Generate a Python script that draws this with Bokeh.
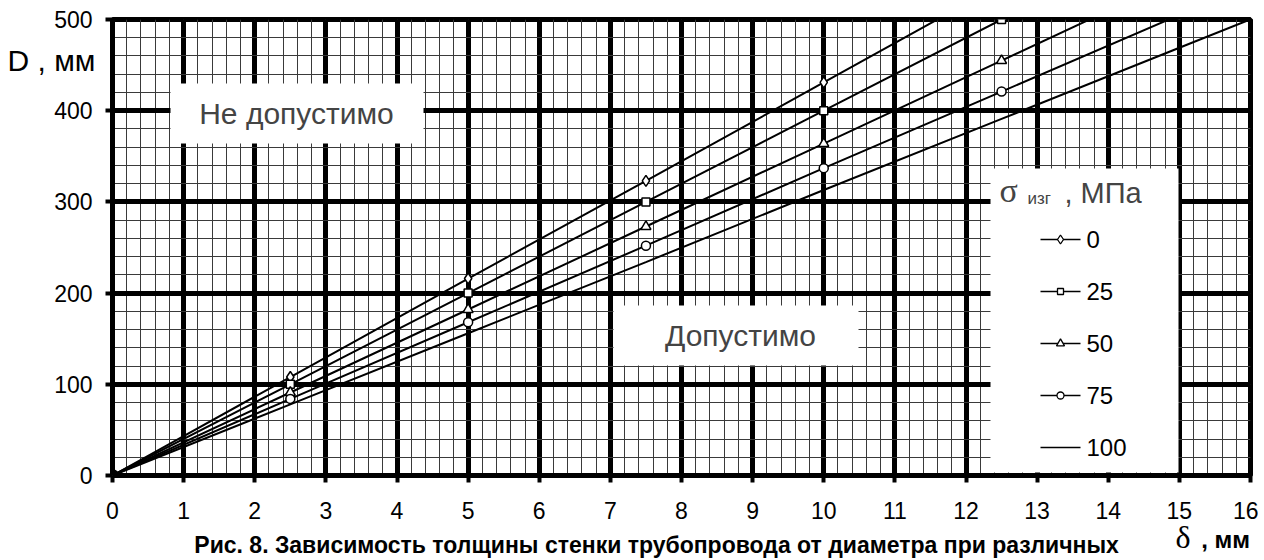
from bokeh.plotting import figure
from bokeh.models import Range1d, SingleIntervalTicker, FixedTicker, LinearAxis, Label
from bokeh.embed import file_html
from bokeh.resources import INLINE

# ---- data ----
thickness = [0, 2.5, 5, 7.5, 10, 12.5, 15, 17.5]          # δ, мм
d_sigma0 = [0, 108, 216, 323, 431, 539, 646, 754]         # σизг = 0 МПа
d_sigma25 = [0, 100, 200, 300, 400, 500, 600, 700]        # 25 МПа
d_sigma50 = [0, 91, 182, 273, 364, 455, 546, 637]         # 50 МПа
d_sigma75 = [0, 84, 168, 252, 337, 421, 505, 589]         # 75 МПа
d_sigma100 = [0, 78, 156, 234, 313, 391, 469, 547]        # 100 МПа
legend_labels = ["0", "25", "50", "75", "100"]

SANS = "Liberation Sans"
SERIF = "Liberation Serif"

# layout helpers: canvas pixel -> data coordinates
X0, XS = 112.0, 71.125
Y0, YS = 475.0, 0.912


def dx(px):
    return (px - X0) / XS


def dy(py):
    return (Y0 - py) / YS


p = figure(width=1258, height=560, x_range=Range1d(0, 16), y_range=Range1d(0, 500),
           output_backend="svg", toolbar_location=None,
           min_border_left=112, min_border_right=8, min_border_top=19, min_border_bottom=85)
p.background_fill_color = "white"
p.border_fill_color = "white"
p.outline_line_color = "black"
p.outline_line_width = 5

xt = SingleIntervalTicker(interval=1, num_minor_ticks=5)
yt = SingleIntervalTicker(interval=100, num_minor_ticks=5)
p.xaxis.ticker = xt
p.yaxis.ticker = yt
p.xgrid.ticker = xt
p.ygrid.ticker = yt

for g in (p.xgrid, p.ygrid):
    g.grid_line_color = "black"
    g.grid_line_width = 5
    g.minor_grid_line_color = "#3a3a3a"
    g.minor_grid_line_width = 1

for ax in (p.xaxis, p.yaxis):
    ax.axis_line_color = "black"
    ax.axis_line_width = 5
    ax.major_tick_line_color = "black"
    ax.major_tick_line_width = 4
    ax.major_tick_out = 7
    ax.major_tick_in = 0
    ax.minor_tick_line_color = None
    ax.major_label_text_font = SANS
    ax.major_label_text_font_size = "23px"
    ax.major_label_text_color = "black"
p.xaxis.major_label_standoff = 19
p.yaxis.major_label_standoff = 13


def text_axis(place, pos, text, font, size, style, standoff):
    """A tick-less axis that only carries one text label (axis titles, caption)."""
    ax = LinearAxis(ticker=FixedTicker(ticks=[pos]), major_label_overrides={pos: text},
                    axis_line_color=None, major_tick_line_color=None,
                    minor_tick_line_color=None, major_tick_out=0, major_tick_in=0,
                    minor_tick_out=0, minor_tick_in=0,
                    major_label_text_font=font, major_label_text_font_size=size,
                    major_label_text_font_style=style, major_label_text_color="black",
                    major_label_standoff=standoff)
    p.add_layout(ax, place)


# y-axis title "D , мм" (outer left axis, pulled back over the free margin)
text_axis("left", 455, "D , мм", SANS, "30px", "normal", -44)
# x-axis title "δ , мм" and the figure caption (outer bottom axes)
text_axis("below", 15.65, ", мм", SANS, "24px", "bold", 4)
text_axis("below", 15.05, "δ", SERIF, "32px", "normal", -37)
text_axis("below", 7.65,
          "Рис. 8. Зависимость толщины стенки трубопровода от диаметра при различных",
          SANS, "23px", "bold", -26)

# white boxes (text areas and legend)
p.quad(left=[dx(170), dx(613), dx(990)], right=[dx(423), dx(858), dx(1178)],
       top=[dy(83), dy(305), dy(168)], bottom=[dy(143), dy(365), dy(472)],
       fill_color="white", line_color=None)

# series
series = [d_sigma0, d_sigma25, d_sigma50, d_sigma75, d_sigma100]
markers = ["diamond", "square", "triangle", "circle", None]
sizes = [11, 8, 10, 9, 0]
for ys in series:
    p.line(thickness, ys, line_color="black", line_width=2)
for ys, mk, sz in zip(series, markers, sizes):
    if mk is not None:
        p.scatter(thickness, ys, marker=mk, size=sz, fill_color="white",
                  line_color="black", line_width=1.5)
# overlapping markers at the origin form a solid dot
p.scatter([thickness[0]], [d_sigma0[0]], marker="circle", size=12, fill_color="black",
          line_color="black")

# legend
rows = [239, 291, 343, 395, 447]
p.segment(x0=[dx(1040)] * 5, x1=[dx(1080)] * 5, y0=[dy(r) for r in rows],
          y1=[dy(r) for r in rows], line_color="black", line_width=1.5)
for r, mk, sz in zip(rows, markers, sizes):
    if mk is not None:
        p.scatter([dx(1060)], [dy(r)], marker=mk, size=max(sz - 2, 6), fill_color="white",
                  line_color="black", line_width=1.3)
for r, lab in zip(rows, legend_labels):
    p.add_layout(Label(x=dx(1086), y=dy(r), text=lab, text_font=SANS, text_font_size="24px",
                       text_align="left", text_baseline="middle", text_color="black"))

p.add_layout(Label(x=dx(999), y=dy(190), text="σ", text_font=SERIF, text_font_size="34px",
                   text_align="left", text_baseline="middle"))
p.add_layout(Label(x=dx(1027), y=dy(198), text="изг", text_font=SANS, text_font_size="17px",
                   text_align="left", text_baseline="middle"))
p.add_layout(Label(x=dx(1064), y=dy(192), text=", МПа", text_font=SANS, text_font_size="29px",
                   text_align="left", text_baseline="middle"))

# region texts
p.add_layout(Label(x=dx(296), y=dy(113), text="Не допустимо", text_font=SANS,
                   text_font_size="30px", text_align="center", text_baseline="middle"))
p.add_layout(Label(x=dx(740), y=dy(335), text="Допустимо", text_font=SANS,
                   text_font_size="30px", text_align="center", text_baseline="middle"))

open("out.html", "w").write(file_html(p, INLINE))
